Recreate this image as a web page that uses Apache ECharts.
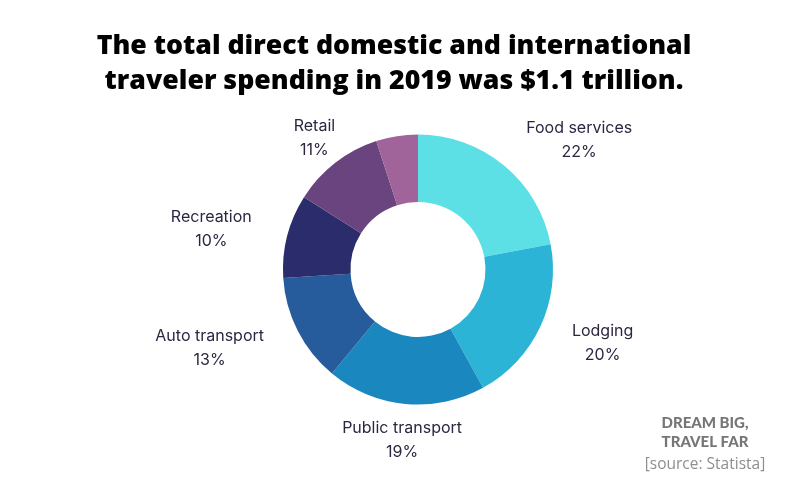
<!DOCTYPE html>
<html>
<head>
<meta charset="utf-8">
<script src="https://cdn.jsdelivr.net/npm/echarts@6/dist/echarts.min.js"></script>
<style>
  html, body { margin: 0; padding: 0; background: #ffffff; }
  #chart { width: 800px; height: 500px; }
</style>
</head>
<body>
<div id="chart"></div>
<script>
// ---- data ----
const categories = ['Food services', 'Lodging', 'Public transport', 'Auto transport', 'Recreation', 'Retail', 'Other'];
const shares = [22, 20, 19, 13, 10, 11, 5];
const showLabel = [true, true, true, true, true, true, false];
const titleLines = ['The total direct domestic and international', 'traveler spending in 2019 was $1.1 trillion.'];
const brandLines = ['DREAM BIG,', 'TRAVEL FAR'];
const sourceText = '[source: Statista]';

// ---- style ----
const colors = ['#5ce0e6', '#2cb4d7', '#1a88bf', '#265c9b', '#2b2c6b', '#6a447f', '#a1649a'];
const CX = 418, CY = 269.5, R0 = 67.5, R1 = 135;
// label placement (radial distance from centre, angular nudge in degrees)
const labelDist = [208, 198, 169, 222, 211, 169, 170];
const labelAngleAdj = [11.2, -4, 0, 6.8, -2.8, 0, 0];
const labelDy = 2;

const total = shares.reduce((a, b) => a + b, 0);
const cum = [];
shares.reduce((acc, v, i) => { cum[i] = acc; return acc + v; }, 0);

const chart = echarts.init(document.getElementById('chart'), null, { renderer: 'canvas' });

const option = {
  backgroundColor: '#ffffff',
  animation: false,
  graphic: [
    {
      type: 'text',
      x: 394, y: 64,
      style: {
        text: titleLines.join('\n'),
        align: 'center', verticalAlign: 'middle',
        fontFamily: '"Open Sans", sans-serif', fontWeight: 800, fontSize: 26.7,
        lineHeight: 35, fill: '#000000'
      }
    },
    {
      type: 'text',
      x: 705, y: 433,
      style: {
        text: brandLines.join('\n'),
        align: 'center', verticalAlign: 'middle',
        fontFamily: 'Lato, sans-serif', fontWeight: 900, fontSize: 15,
        lineHeight: 19, fill: '#767676'
      }
    },
    {
      type: 'text',
      x: 705, y: 465,
      style: {
        text: sourceText,
        align: 'center', verticalAlign: 'middle',
        fontFamily: '"Open Sans", sans-serif', fontWeight: 400, fontSize: 15.5,
        fill: '#8e8e8e'
      }
    }
  ],
  series: [{
    type: 'pie',
    center: [CX, CY],
    radius: [R0, R1],
    startAngle: 90,
    clockwise: true,
    avoidLabelOverlap: false,
    itemStyle: { borderWidth: 0 },
    emphasis: { disabled: true },
    label: {
      show: true,
      position: 'outside',
      formatter: p => p.name + '\n' + p.value + '%',
      fontFamily: 'Inter, sans-serif',
      fontSize: 16,
      lineHeight: 24,
      color: '#2e2540'
    },
    labelLine: { show: false },
    labelLayout: function (params) {
      const i = params.dataIndex;
      const mid = (cum[i] + shares[i] / 2) / total * 360 + labelAngleAdj[i];
      const a = mid * Math.PI / 180;
      return {
        x: CX + labelDist[i] * Math.sin(a),
        y: CY - labelDist[i] * Math.cos(a) + labelDy,
        align: 'center',
        verticalAlign: 'middle'
      };
    },
    data: categories.map((c, i) => ({
      name: c,
      value: shares[i],
      itemStyle: { color: colors[i] },
      label: { show: showLabel[i] }
    }))
  }]
};

chart.setOption(option);
</script>
</body>
</html>
